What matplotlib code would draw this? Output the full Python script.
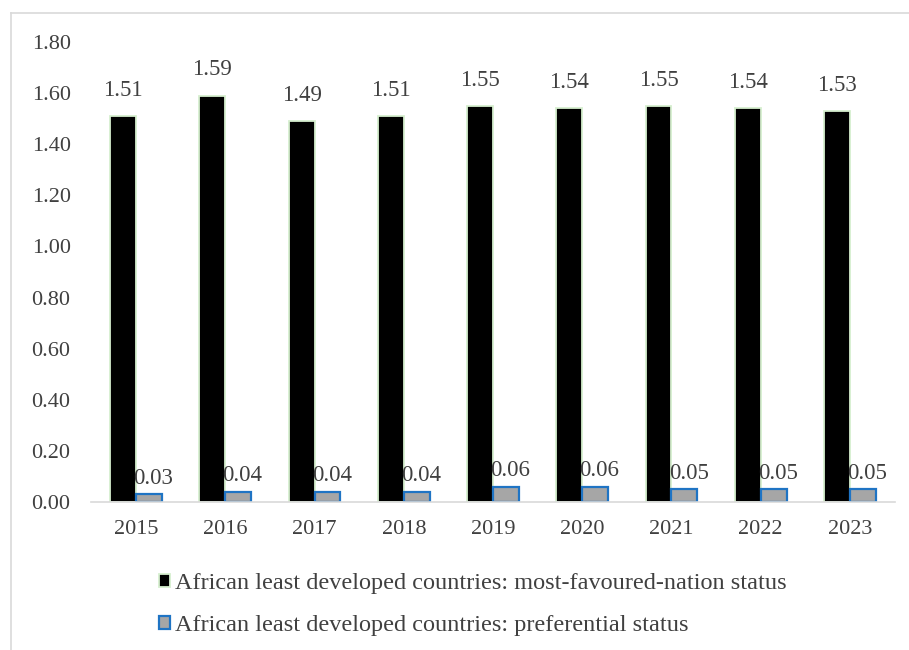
import matplotlib.pyplot as plt
import numpy as np
from matplotlib.lines import Line2D

years = ["2015", "2016", "2017", "2018", "2019", "2020", "2021", "2022", "2023"]
mfn_values = [1.51, 1.59, 1.49, 1.51, 1.55, 1.54, 1.55, 1.54, 1.53]
pref_values = [0.03, 0.04, 0.04, 0.04, 0.06, 0.06, 0.05, 0.05, 0.05]
mfn_label = "African least developed countries: most-favoured-nation status"
pref_label = "African least developed countries: preferential status"

plt.rcParams["font.family"] = ["Liberation Serif", "DejaVu Serif"]
text_color = "#404040"

fig = plt.figure(figsize=(9.09, 6.5), dpi=100)
ax = fig.add_axes([0.1006, 0.2277, 0.8835, 0.7077])

x = np.arange(len(years))
w = 0.29

bars_mfn = ax.bar(x - w / 2, mfn_values, width=w, color="black",
                  edgecolor="#d6efcf", linewidth=1.3, label=mfn_label)
bars_pref = ax.bar(x + w / 2, pref_values, width=w, color="#a6a6a6",
                   edgecolor="#1f74c4", linewidth=1.6, label=pref_label)

for b, v in zip(bars_mfn, mfn_values):
    ax.annotate(f"{v:.2f}", (b.get_x() + b.get_width() / 2, v),
                xytext=(0, 11), textcoords="offset points",
                ha="center", va="bottom", fontsize=16.5, color=text_color)

for b, v in zip(bars_pref, pref_values):
    ax.annotate(f"{v:.2f}", (b.get_x() + b.get_width() / 2, v),
                xytext=(3, 4), textcoords="offset points",
                ha="center", va="bottom", fontsize=16.5, color=text_color)

ax.set_xlim(-0.5, len(years) - 0.5)
ax.set_ylim(0, 1.8)
ax.set_yticks(np.arange(0, 1.81, 0.2))
ax.set_yticklabels([f"{t:.2f}" for t in np.arange(0, 1.81, 0.2)])
ax.set_xticks(x)
ax.set_xticklabels(years)

ax.tick_params(axis="both", length=0, labelsize=16, colors=text_color)
ax.tick_params(axis="x", pad=13)
ax.tick_params(axis="y", pad=15)

for s in ["top", "right", "left"]:
    ax.spines[s].set_visible(False)
ax.spines["bottom"].set_color("#d9d9d9")
ax.spines["bottom"].set_linewidth(1.2)

leg = fig.legend(handles=[bars_mfn, bars_pref], labels=[mfn_label, pref_label],
                 loc="upper left", bbox_to_anchor=(0.1746, 0.118),
                 frameon=False, fontsize=17.5, handlelength=0.45,
                 handleheight=0.45, handletextpad=0.2, labelspacing=0.85,
                 borderaxespad=0, borderpad=0)
for t in leg.get_texts():
    t.set_color(text_color)

# outer frame (left and top)
fig.add_artist(Line2D([11 / 909, 11 / 909], [0, 1 - 13 / 650],
                      transform=fig.transFigure, color="#d9d9d9", lw=1.2))
fig.add_artist(Line2D([11 / 909, 1], [1 - 13 / 650, 1 - 13 / 650],
                      transform=fig.transFigure, color="#d9d9d9", lw=1.2))

fig.savefig("out.png", dpi=100)
